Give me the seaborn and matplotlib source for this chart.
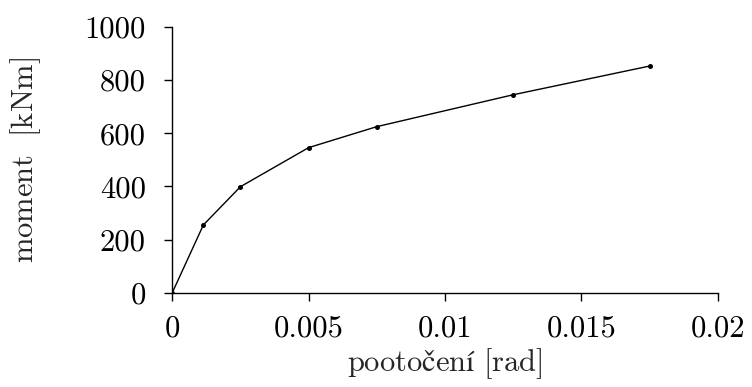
import matplotlib
matplotlib.use("Agg")
import matplotlib.pyplot as plt
import seaborn as sns
import pandas as pd

# data
rotation = [0.0, 0.00114, 0.0025, 0.005, 0.0075, 0.0125, 0.0175]
moment = [0, 255, 399, 546, 625, 745, 853]
xticks = [0, 0.005, 0.01, 0.015, 0.02]
xticklabels = ["0", "0.005", "0.01", "0.015", "0.02"]
yticks = [0, 200, 400, 600, 800, 1000]
yticklabels = ["0", "200", "400", "600", "800", "1000"]
xlabel = r"$\mathrm{pootočení\ [rad]}$"
ylabel = r"$\mathrm{moment\ \ [kNm]}$"

sns.set_style("ticks")
plt.rcParams["font.family"] = ["cmr10", "DejaVu Serif"]
plt.rcParams["mathtext.fontset"] = "cm"
plt.rcParams["axes.formatter.use_mathtext"] = True

df = pd.DataFrame({"x": rotation, "y": moment})

fig = plt.figure(figsize=(7.52, 3.87), dpi=100)
ax = fig.add_axes([0.2291, 0.2437, 0.9544 - 0.2291, 0.9302 - 0.2437])
sns.lineplot(data=df, x="x", y="y", ax=ax, color="black", linewidth=1.0,
             marker="o", markersize=3.6, markeredgewidth=0, sort=False)

ax.set_xlim(0, 0.02)
ax.set_ylim(0, 1000)
ax.set_xticks(xticks)
ax.set_xticklabels(xticklabels)
ax.set_yticks(yticks)
ax.set_yticklabels(yticklabels)
ax.tick_params(axis="both", direction="out", length=6, width=1.0, colors="black",
               labelsize=22)
ax.tick_params(axis="y", pad=13)
ax.tick_params(axis="x", pad=10)
for side in ["top", "right"]:
    ax.spines[side].set_visible(False)
for side in ["left", "bottom"]:
    ax.spines[side].set_linewidth(1.0)
    ax.spines[side].set_color("black")

ax.set_xlabel(xlabel, fontsize=22, labelpad=3)
ax.set_ylabel(ylabel, fontsize=22, labelpad=30)

fig.savefig("out.png", dpi=100)
